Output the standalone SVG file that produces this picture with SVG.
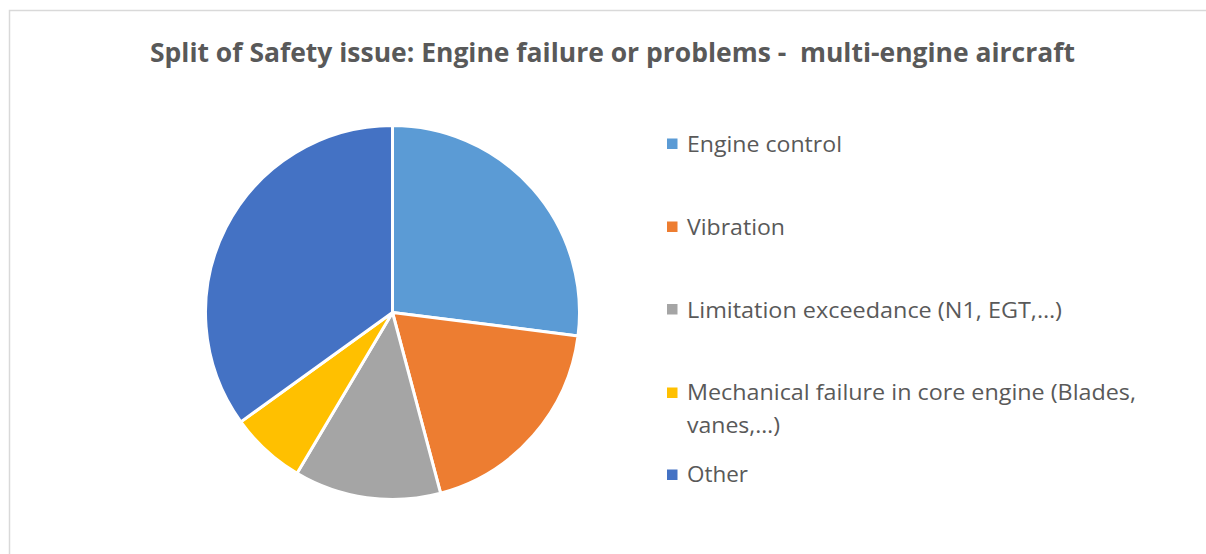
<svg xmlns="http://www.w3.org/2000/svg" width="1206" height="554" viewBox="0 0 1206 554">
  <style>
    .title { font-family: "Open Sans", "Liberation Sans", sans-serif; font-weight: bold; font-size: 27px; fill: #595959; }
    .leg { font-family: "Open Sans", "Liberation Sans", sans-serif; font-size: 21px; fill: #595959; }
    .slice { stroke: #FFFFFF; stroke-width: 3; stroke-linejoin: round; }
  </style>
  <rect x="0" y="0" width="1206" height="554" fill="#FFFFFF"/>
  <rect id="frame" x="9.5" y="10.5" width="1220" height="560" fill="#FFFFFF" stroke="#D9D9D9" stroke-width="1.5"/>
  <g id="title">
    <text class="title" x="150" y="62" textLength="925" lengthAdjust="spacingAndGlyphs" xml:space="preserve">Split of Safety issue: Engine failure or problems -  multi-engine aircraft</text>
  </g>
  <g id="pie">
    <path id="slice-engine-control" class="slice" fill="#5B9BD5" d="M392.5,312.5 L392.5,125.5 A187,187 0 0 1 578.03,335.94 Z"/>
    <path id="slice-vibration" class="slice" fill="#ED7D31" d="M392.5,312.5 L578.03,335.94 A187,187 0 0 1 440.58,493.21 Z"/>
    <path id="slice-limitation" class="slice" fill="#A5A5A5" d="M392.5,312.5 L440.58,493.21 A187,187 0 0 1 297.03,473.29 Z"/>
    <path id="slice-mechanical" class="slice" fill="#FFC000" d="M392.5,312.5 L297.03,473.29 A187,187 0 0 1 240.83,421.89 Z"/>
    <path id="slice-other" class="slice" fill="#4472C4" d="M392.5,312.5 L240.83,421.89 A187,187 0 0 1 392.5,125.5 Z"/>
  </g>
  <g id="legend">
    <g id="leg-engine-control">
      <rect x="667" y="138.5" width="10.5" height="10.5" fill="#5B9BD5"/>
      <text class="leg" x="687" y="152" textLength="155" lengthAdjust="spacingAndGlyphs">Engine control</text>
    </g>
    <g id="leg-vibration">
      <rect x="667" y="221.5" width="10.5" height="10.5" fill="#ED7D31"/>
      <text class="leg" x="687" y="235" textLength="98" lengthAdjust="spacingAndGlyphs">Vibration</text>
    </g>
    <g id="leg-limitation">
      <rect x="667" y="304" width="10.5" height="10.5" fill="#A5A5A5"/>
      <text class="leg" x="687" y="317.5" textLength="375" lengthAdjust="spacingAndGlyphs">Limitation exceedance (N1, EGT,…)</text>
    </g>
    <g id="leg-mechanical">
      <rect x="667" y="387.5" width="10.5" height="10.5" fill="#FFC000"/>
      <text class="leg" x="687" y="400" textLength="449" lengthAdjust="spacingAndGlyphs">Mechanical failure in core engine (Blades,</text>
      <text class="leg" x="687" y="433" textLength="93" lengthAdjust="spacingAndGlyphs">vanes,…)</text>
    </g>
    <g id="leg-other">
      <rect x="667" y="469.5" width="10.5" height="10.5" fill="#4472C4"/>
      <text class="leg" x="687" y="482" textLength="61" lengthAdjust="spacingAndGlyphs">Other</text>
    </g>
  </g>
</svg>
